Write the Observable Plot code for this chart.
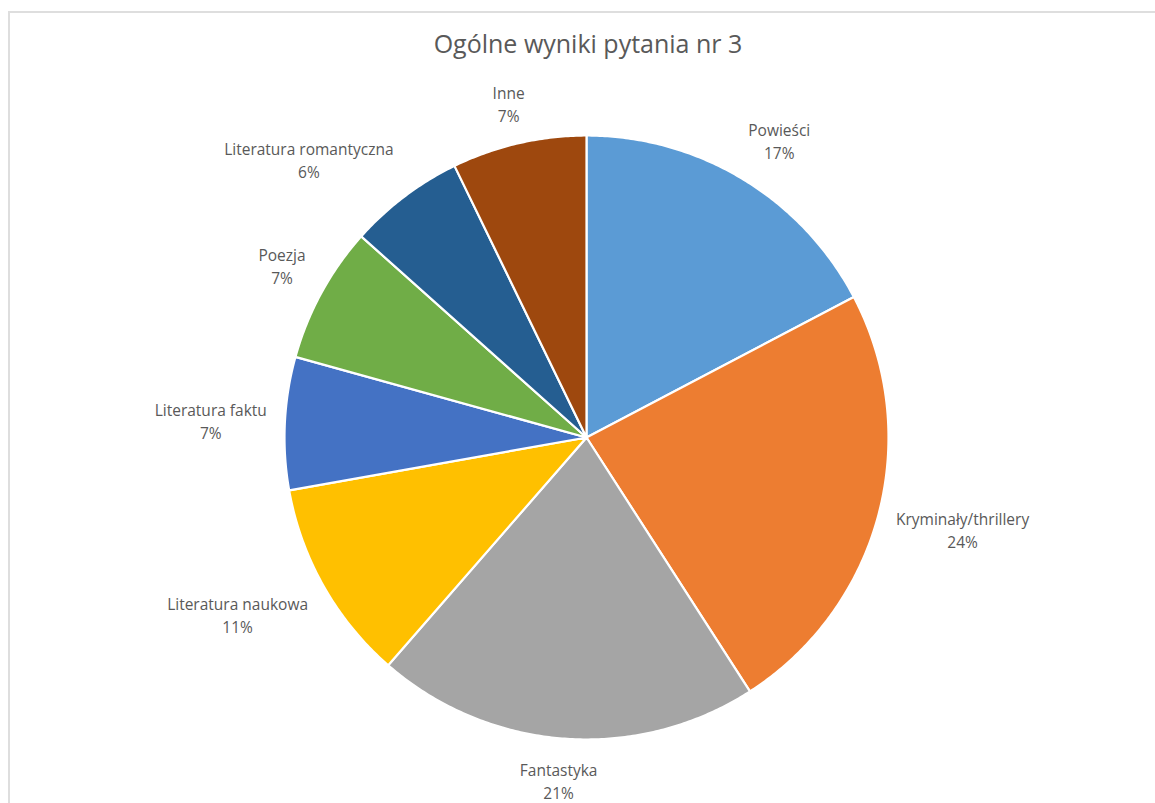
<!DOCTYPE html>
<html>
<head>
<meta charset="utf-8">
<script src="https://cdn.jsdelivr.net/npm/d3@7"></script>
<script src="https://cdn.jsdelivr.net/npm/@observablehq/plot@0.6"></script>
<style>
  html, body { margin: 0; padding: 0; background: #fff; overflow: hidden; }
  body { width: 1155px; height: 803px; position: relative; }
  #frame { position: absolute; left: 8px; top: 11px; width: 1200px; height: 850px; border: 2px solid #dedede; box-sizing: border-box; }
  #title { position: absolute; left: 0; width: 1176px; top: 26px; text-align: center; font-family: "Open Sans", sans-serif; font-size: 25px; color: #595959; }
  #chart { position: absolute; left: 0; top: 0; }
</style>
</head>
<body>
<div id="frame"></div>
<div id="chart"></div>
<div id="title">Ogólne wyniki pytania nr 3</div>
<script>
const categories = ["Powieści", "Kryminały/thrillery", "Fantastyka", "Literatura naukowa", "Literatura faktu", "Poezja", "Literatura romantyczna", "Inne"];
const values = [17.3, 23.6, 20.5, 10.8, 7.1, 7.3, 6.2, 7.2];
const colors = ["#5B9BD5", "#ED7D31", "#A5A5A5", "#FFC000", "#4472C4", "#70AD47", "#255E91", "#9E480E"];

const W = 1155, H = 803;
const cx = 586, cy = 437, R = 302;
const fontSize = 15.5;
const labelFont = `${fontSize}px "Open Sans"`;

const total = d3.sum(values);
let acc = 0;
const slices = categories.map((c, i) => {
  const a0 = acc / total * 2 * Math.PI;
  acc += values[i];
  const a1 = acc / total * 2 * Math.PI;
  return {cat: c, value: values[i], a0, a1, pct: Math.round(values[i] / total * 100) + "%"};
});

// polygon points for each slice (unit radius, angle clockwise from north)
const pts = [];
for (const s of slices) {
  pts.push({cat: s.cat, x: 0, y: 0});
  const n = Math.max(2, Math.ceil((s.a1 - s.a0) / (Math.PI / 360)));
  for (let k = 0; k <= n; k++) {
    const a = s.a0 + (s.a1 - s.a0) * k / n;
    pts.push({cat: s.cat, x: Math.sin(a), y: Math.cos(a)});
  }
  pts.push({cat: s.cat, x: 0, y: 0});
}

// label placement (outside end)
const ctx = document.createElement("canvas").getContext("2d");
ctx.font = labelFont;
const lineH = 23;
const labels = slices.map(s => {
  const m = (s.a0 + s.a1) / 2;
  const w = Math.max(ctx.measureText(s.cat).width, ctx.measureText(s.pct).width);
  const h = 2 * lineH;
  const gap = 18;
  const px = Math.sin(m) * (R + gap), py = -Math.cos(m) * (R + gap);
  const k = 1.7;
  const clamp = v => Math.max(-1, Math.min(1, v));
  const ox = w / 2 * clamp(Math.sin(m) * k);
  const oy = h / 2 * clamp(-Math.cos(m) * k);
  return {text: s.cat + "\n" + s.pct, x: (px + ox) / R, y: -(py + oy) / R};
});

const plot = Plot.plot({
  width: W, height: H,
  margin: 0,
  x: {domain: [-cx / R, (W - cx) / R], range: [0, W], axis: null},
  y: {domain: [cy / R, -(H - cy) / R], range: [0, H], axis: null},
  color: {domain: categories, range: colors},
  style: {background: "transparent", overflow: "visible"},
  marks: [
    Plot.line(pts, {x: "x", y: "y", z: "cat", fill: "cat", stroke: "white", strokeWidth: 2.2, strokeLinejoin: "round", curve: "linear"}),
    Plot.text(labels, {x: "x", y: "y", text: "text", fill: "#595959", fontSize: fontSize, fontFamily: "Open Sans", lineHeight: lineH / fontSize, textAnchor: "middle", lineAnchor: "middle"})
  ]
});
document.getElementById("chart").appendChild(plot);
</script>
</body>
</html>
